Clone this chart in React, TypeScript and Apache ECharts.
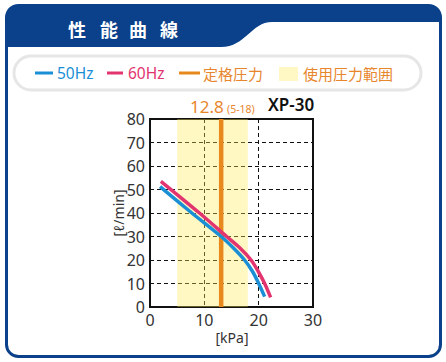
import React, { useEffect, useRef } from "react";
import * as echarts from "echarts";

const pressure50 = [1.85, 7.7, 13.1, 15.4, 17.4, 18.9, 20.0, 21.1];
const flow50 = [51.2, 40, 30, 25, 20, 15, 10, 4.4];
const pressure60 = [2.0, 9.1, 14.1, 16.6, 18.6, 19.95, 21.1, 22.2];
const flow60 = [53.5, 40, 30, 25, 20, 15, 10, 4.1];
const ratedPressure = 13.1;
const ratedLabel = "12.8";
const rangeLabel = "(5-18)";
const usableRange = [5, 18];
const model = "XP-30";
const legendLabels = ["50Hz", "60Hz", "定格圧力", "使用圧力範囲"];
const titleChars = ["性", "能", "曲", "線"];
const xAxisName = "[kPa]";
const yAxisName = "[ℓ/min]";

const NAVY = "#0B418A";
const BLUE = "#1B8FD6";
const PINK = "#E2346F";
const ORANGE = "#E8891E";
const ORANGE_TXT = "#E8862E";
const YELLOW = "#FFF8C4";
const YELLOW_A = "rgba(255, 236, 90, 0.36)";

const headerPath =
  "M6,47 L6,17 Q6,5 18,5 L429,5 Q441,5 441,17 L441,22 L272,22 C251,22 246,47 221,47 Z";
echarts.graphic.registerShape("hdr", echarts.graphic.extendPath(headerPath, {}) as any);

const zip = (a: number[], b: number[]) => a.map((v, i) => [v, b[i]]);

export default function App() {
  const ref = useRef<HTMLDivElement>(null);
  useEffect(() => {
    if (!ref.current) return;
    const chart = echarts.init(ref.current, null, { renderer: "svg" });
    const font = "'Noto Sans', 'Noto Sans CJK JP', sans-serif";
    const cjk = "'Noto Sans CJK JP', sans-serif";
    const titleX = [68, 100, 129, 160];
    chart.setOption({
      animation: false,
      backgroundColor: "#fff",
      grid: {
        left: 150,
        right: 133,
        top: 119,
        bottom: 55,
        show: true,
        borderColor: "#111",
        borderWidth: 2,
        z: 1,
      },
      xAxis: {
        type: "value",
        min: 0,
        max: 30,
        interval: 10,
        z: 1,
        axisLine: { show: false },
        axisTick: { show: false },
        axisLabel: { fontSize: 16, color: "#333", fontFamily: font, margin: 5 },
        splitLine: { show: true, lineStyle: { color: "#111", width: 1, type: [4, 3] } },
      },
      yAxis: {
        type: "value",
        min: 0,
        max: 80,
        interval: 10,
        z: 1,
        axisLine: { show: false },
        axisTick: { show: false },
        axisLabel: { fontSize: 16, color: "#333", fontFamily: font, margin: 5 },
        splitLine: { show: true, lineStyle: { color: "#111", width: 1, type: [4, 3] } },
      },
      series: [
        {
          type: "line",
          data: [],
          z: 0,
          silent: true,
          markArea: {
            silent: true,
            itemStyle: { color: YELLOW_A },
            data: [[{ xAxis: usableRange[0] }, { xAxis: usableRange[1] }]],
          },
        },
        {
          name: "rated",
          type: "line",
          z: 3,
          data: [
            [ratedPressure, 0],
            [ratedPressure, 80],
          ],
          showSymbol: false,
          lineStyle: { color: ORANGE, width: 4.5 },
        },
        {
          name: "50Hz",
          type: "line",
          z: 4,
          data: zip(pressure50, flow50),
          smooth: 0.3,
          showSymbol: false,
          lineStyle: { color: BLUE, width: 3.5 },
        },
        {
          name: "60Hz",
          type: "line",
          z: 4,
          data: zip(pressure60, flow60),
          smooth: 0.3,
          showSymbol: false,
          lineStyle: { color: PINK, width: 3.5 },
        },
      ],
      graphic: [
        {
          type: "rect",
          z: 0,
          shape: { x: 6.5, y: 5.5, width: 434, height: 351, r: 12 },
          style: { fill: "none", stroke: NAVY, lineWidth: 3 },
        },
        {
          type: "hdr",
          x: 0,
          y: 0,
          z: 0,
          style: { fill: NAVY },
        },
        ...titleChars.map((c, i) => ({
          type: "text",
          x: titleX[i],
          y: 29,
          z: 5,
          style: {
            text: c,
            fill: "#fff",
            fontSize: 18,
            fontWeight: "bold",
            fontFamily: cjk,
            textVerticalAlign: "middle",
          },
        })),
        {
          type: "rect",
          z: 0,
          shape: { x: 14, y: 56, width: 407, height: 34, r: 17 },
          style: { fill: "#fff", stroke: "#E6E6E6", lineWidth: 3 },
        },
        { type: "line", z: 5, shape: { x1: 35, y1: 73, x2: 53, y2: 73 }, style: { stroke: BLUE, lineWidth: 3 } },
        {
          type: "text", z: 5, x: 57, y: 73,
          style: { text: legendLabels[0], fill: BLUE, fontSize: 15.5, fontFamily: font, textVerticalAlign: "middle" },
        },
        { type: "line", z: 5, shape: { x1: 107, y1: 73, x2: 123, y2: 73 }, style: { stroke: PINK, lineWidth: 3 } },
        {
          type: "text", z: 5, x: 128, y: 73,
          style: { text: legendLabels[1], fill: PINK, fontSize: 15.5, fontFamily: font, textVerticalAlign: "middle" },
        },
        { type: "line", z: 5, shape: { x1: 179, y1: 73, x2: 200, y2: 73 }, style: { stroke: ORANGE, lineWidth: 3 } },
        {
          type: "text", z: 5, x: 203, y: 73,
          style: { text: legendLabels[2], fill: ORANGE_TXT, fontSize: 15, fontFamily: cjk, textVerticalAlign: "middle" },
        },
        { type: "rect", z: 5, shape: { x: 279, y: 67, width: 19, height: 14 }, style: { fill: YELLOW } },
        {
          type: "text", z: 5, x: 303, y: 73,
          style: { text: legendLabels[3], fill: ORANGE_TXT, fontSize: 15, fontFamily: cjk, textVerticalAlign: "middle" },
        },
        {
          type: "text", z: 5, x: 190, y: 106,
          style: { text: ratedLabel, fill: ORANGE_TXT, fontSize: 17, fontFamily: font, textVerticalAlign: "middle" },
        },
        {
          type: "text", z: 5, x: 227, y: 109,
          style: { text: rangeLabel, fill: ORANGE_TXT, fontSize: 10.5, fontFamily: font, textVerticalAlign: "middle" },
        },
        {
          type: "text", z: 5, x: 268, y: 104,
          style: { text: model, fill: "#111", fontSize: 17, fontWeight: 600, fontFamily: font, textVerticalAlign: "middle" },
        },
        {
          type: "text", z: 5, x: 232, y: 337,
          style: { text: xAxisName, fill: "#333", fontSize: 14, fontFamily: font, textAlign: "center", textVerticalAlign: "middle" },
        },
        {
          type: "text", z: 5, x: 118, y: 213, rotation: Math.PI / 2,
          style: { text: yAxisName, fill: "#333", fontSize: 14, fontFamily: font, textAlign: "center", textVerticalAlign: "middle" },
        },
      ],
    });
    return () => chart.dispose();
  }, []);
  return (
    <div
      ref={ref}
      style={{ position: "fixed", left: 0, top: 0, width: 446, height: 362, background: "#fff" }}
    />
  );
}
